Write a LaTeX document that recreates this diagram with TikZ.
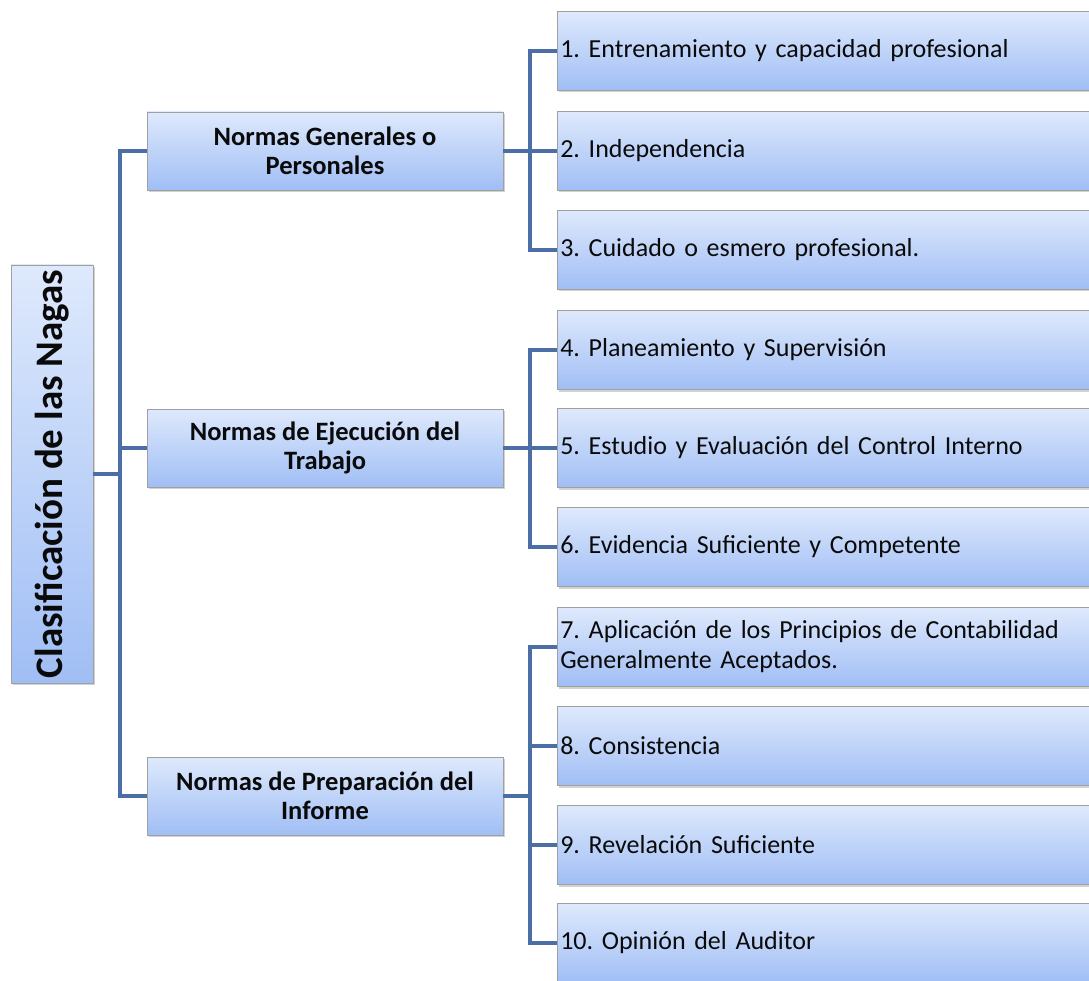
\documentclass[tikz,border=0pt]{standalone}
\usepackage{fontspec}
\setmainfont{Carlito}
\usepackage{graphicx}
\usetikzlibrary{shadows}

\definecolor{boxtop}{RGB}{222,233,252}
\definecolor{boxbottom}{RGB}{160,190,245}
\definecolor{boxline}{RGB}{160,160,160}
\definecolor{linkblue}{RGB}{74,110,165}
\definecolor{textblack}{RGB}{10,10,10}

\begin{document}
\frenchspacing
\begin{tikzpicture}
      [x=1pt,y=-1pt,
       box/.style={rectangle,draw=boxline,line width=0.6pt,top color=boxtop,bottom color=boxbottom,
                   drop shadow={shadow xshift=1.5pt,shadow yshift=-2pt,opacity=0.35},text=textblack},
       root node/.style={box,minimum width=82pt,minimum height=418pt,inner sep=0pt,
                   font=\fontsize{39}{44}\selectfont\bfseries},
       norm node/.style={box,minimum width=356pt,minimum height=78pt,align=center,
                   font=\fontsize{26.5}{29}\selectfont\bfseries},
       item node/.style={box,anchor=west,minimum width=545pt,minimum height=79pt,inner xsep=3pt,
                   text width=539pt,align=left,font=\fontsize{26}{30}\selectfont},
       link/.style={draw=linkblue,line width=3.2pt}]
        \clip (0,0) rectangle (1089,981);
        \fill[white] (0,0) rectangle (1089,981);

        \coordinate (spine) at (120,474);
        \coordinate (b1) at (530,151);
        \coordinate (b2) at (530,448);
        \coordinate (b3) at (530,796);

        \draw[link] (120,151) -- (120,797);
        \draw[link] (530,51) -- (530,250);
        \draw[link] (530,350) -- (530,547);
        \draw[link] (530,647) -- (530,943);

        \node[root node] (root) at (52,474) {\rotatebox{90}{Clasificación de las Nagas}};

        \node[norm node] (gen) at (325,151) {Normas Generales o\\Personales};
        \node[norm node] (ejec) at (325,448) {Normas de Ejecución del\\Trabajo};
        \node[norm node] (prep) at (325,796) {Normas de Preparación del\\Informe};

        \node[item node] (i1) at (557,51) {1. Entrenamiento y capacidad profesional};
        \node[item node] (i2) at (557,151) {2. Independencia};
        \node[item node] (i3) at (557,250) {3. Cuidado o esmero profesional.};
        \node[item node] (i4) at (557,350) {4. Planeamiento y Supervisión};
        \node[item node] (i5) at (557,448) {5. Estudio y Evaluación del Control Interno};
        \node[item node] (i6) at (557,547) {6. Evidencia Suficiente y Competente};
        \node[item node] (i7) at (557,647) {7. Aplicación de los Principios de Contabilidad\\Generalmente Aceptados.};
        \node[item node] (i8) at (557,746) {8. Consistencia};
        \node[item node] (i9) at (557,845) {9. Revelación Suficiente};
        \node[item node] (i10) at (557,943) {10. Opinión del Auditor};

        \draw[link] (root.east) -- (spine);
        \draw[link] (spine) |- (gen.west);
        \draw[link] (spine) |- (ejec.west);
        \draw[link] (spine) |- (prep.west);

        \draw[link] (gen.east) -- (b1);
        \draw[link] (b1) |- (i1.west);
        \draw[link] (b1) -- (i2.west);
        \draw[link] (b1) |- (i3.west);

        \draw[link] (ejec.east) -- (b2);
        \draw[link] (b2) |- (i4.west);
        \draw[link] (b2) -- (i5.west);
        \draw[link] (b2) |- (i6.west);

        \draw[link] (prep.east) -- (b3);
        \draw[link] (b3) |- (i7.west);
        \draw[link] (b3) |- (i8.west);
        \draw[link] (b3) |- (i9.west);
        \draw[link] (b3) |- (i10.west);

      \end{tikzpicture}
\end{document}
